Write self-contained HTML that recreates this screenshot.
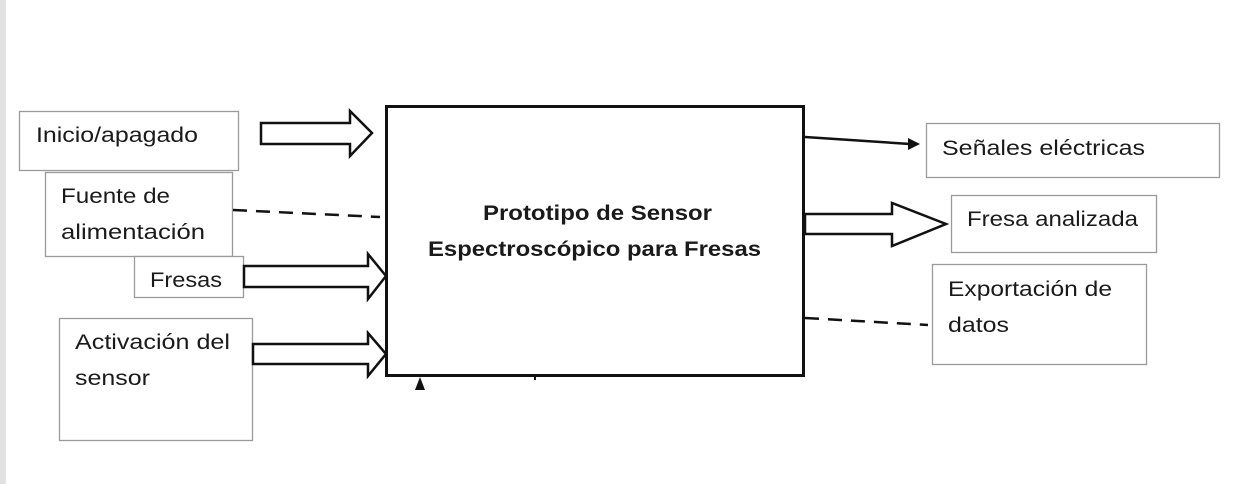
<!DOCTYPE html>
<html><head><meta charset="utf-8"><style>
html,body{margin:0;padding:0;background:#fff;width:1243px;height:484px;overflow:hidden}
svg text{font-family:"Liberation Sans",sans-serif;fill:#1a1a1a}
</style></head><body>
<svg width="1243" height="484" viewBox="0 0 1243 484" xmlns="http://www.w3.org/2000/svg">
<rect x="0" y="0" width="6" height="484" fill="#e2e2e2"/>
<g fill="#fff" stroke="#9a9a9a" stroke-width="1.3">
<rect x="19.5" y="111.5" width="219" height="59"/>
<rect x="45.5" y="172.5" width="187" height="84"/>
<rect x="134.5" y="256.5" width="109" height="41"/>
<rect x="59.5" y="318.5" width="193" height="122"/>
<rect x="926.5" y="123.5" width="293" height="54"/>
<rect x="951.5" y="195.5" width="205" height="57"/>
<rect x="932.5" y="264.5" width="214" height="100"/>
</g>
<rect x="386.5" y="106.5" width="417" height="269" fill="#fff" stroke="#111" stroke-width="3"/>
<g fill="#fff" stroke="#111" stroke-width="2.5" stroke-linejoin="miter">
<polygon points="261,123 350,123 350,111 372,133 350,156 350,144 261,144"/>
<polygon points="244,266 368,266 368,254 386,276 368,299 368,287 244,287"/>
<polygon points="253,344 368,344 368,333 386,354 368,376 368,364 253,364"/>
<polygon points="805,214 892,214 892,203 946,224 892,246 892,234 805,234"/>
</g>
<g stroke="#111" stroke-width="2.5" fill="none">
<line x1="233" y1="210" x2="380" y2="217" stroke-dasharray="14,9"/>
<line x1="805" y1="318" x2="928" y2="325" stroke-dasharray="14,9"/>
<line x1="805" y1="137" x2="910" y2="144"/>
</g>
<polygon points="920,144 908,138 908,150" fill="#111"/>
<polygon points="420,377 415,390 425,390" fill="#111"/>
<rect x="534" y="376" width="2" height="4" fill="#111"/>
<g font-size="21" lengthAdjust="spacingAndGlyphs">
<text x="36" y="142" textLength="162" lengthAdjust="spacingAndGlyphs">Inicio/apagado</text>
<text x="61" y="203" textLength="109" lengthAdjust="spacingAndGlyphs">Fuente de</text>
<text x="61" y="239" textLength="144" lengthAdjust="spacingAndGlyphs">alimentación</text>
<text x="150" y="287" textLength="72" lengthAdjust="spacingAndGlyphs">Fresas</text>
<text x="75" y="349" textLength="155" lengthAdjust="spacingAndGlyphs">Activación del</text>
<text x="75" y="385" textLength="75" lengthAdjust="spacingAndGlyphs">sensor</text>
<text x="942" y="155" textLength="203" lengthAdjust="spacingAndGlyphs">Señales eléctricas</text>
<text x="967" y="226" textLength="171" lengthAdjust="spacingAndGlyphs">Fresa analizada</text>
<text x="948" y="296" textLength="164" lengthAdjust="spacingAndGlyphs">Exportación de</text>
<text x="948" y="332" textLength="61" lengthAdjust="spacingAndGlyphs">datos</text>
</g>
<g font-size="21" font-weight="bold">
<text x="483" y="220" textLength="229" lengthAdjust="spacingAndGlyphs">Prototipo de Sensor</text>
<text x="428" y="256" textLength="333" lengthAdjust="spacingAndGlyphs">Espectroscópico para Fresas</text>
</g>
</svg>
</body></html>
